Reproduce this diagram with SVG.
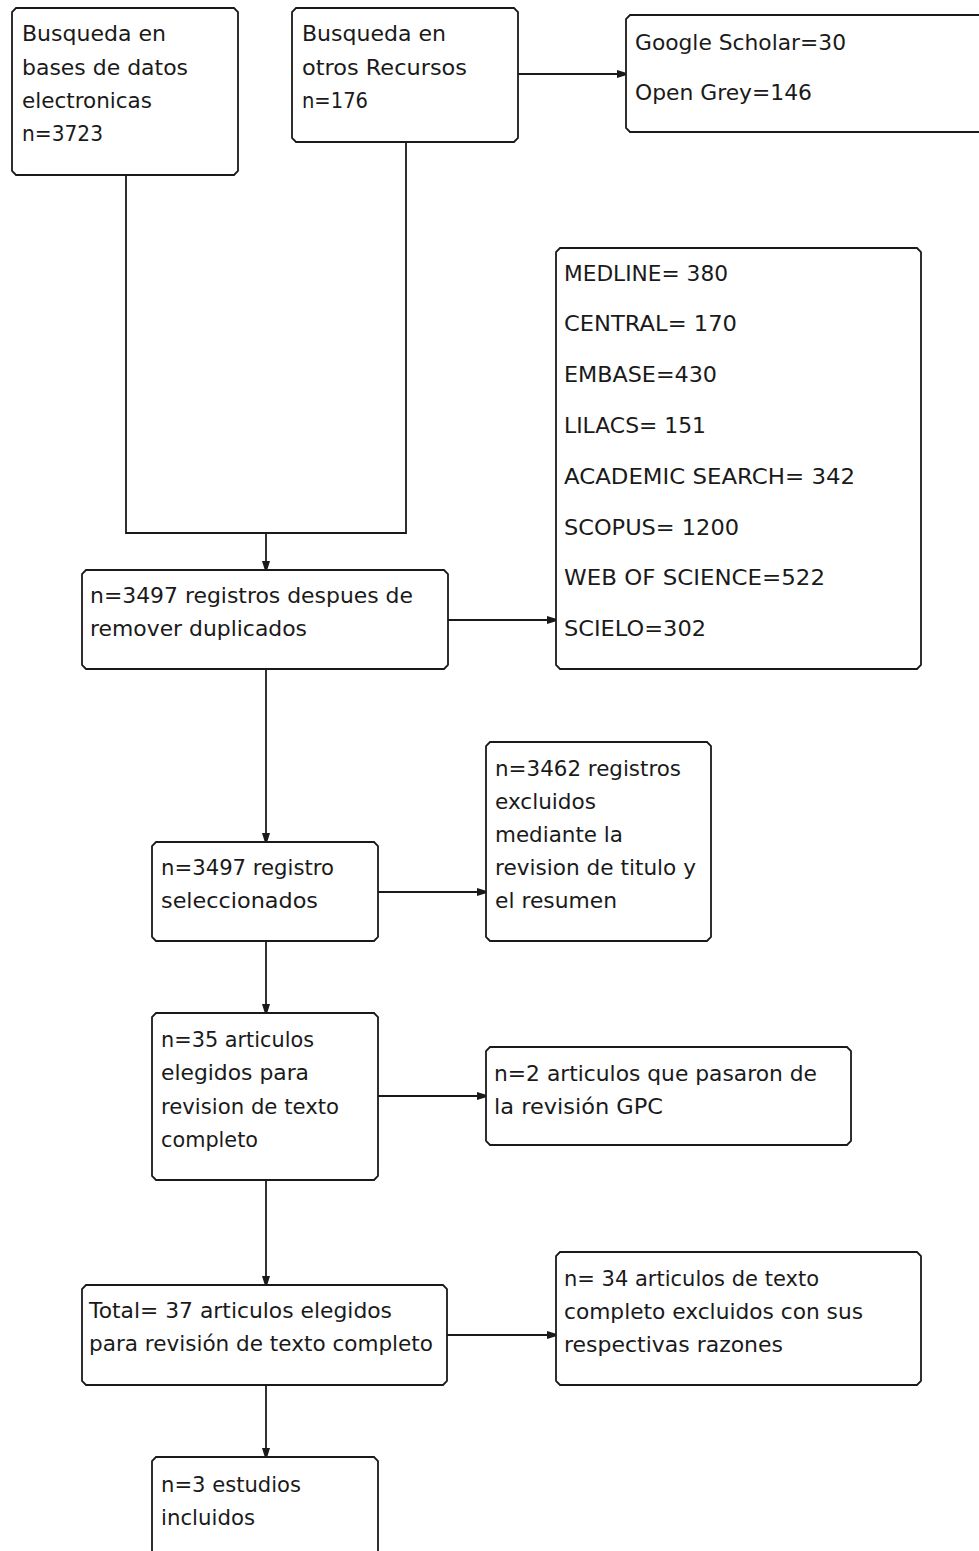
<svg xmlns="http://www.w3.org/2000/svg" width="979" height="1551" viewBox="0 0 979 1551">
<style>
.box{fill:#fff;stroke:#1a1a1a;stroke-width:1.8}
.t{font-family:"DejaVu Sans","Liberation Sans",sans-serif;font-size:21px;fill:#1a1a1a}
.c{fill:none;stroke:#1a1a1a;stroke-width:1.8}
</style>
<defs>
<marker id="ah" markerUnits="userSpaceOnUse" markerWidth="12" markerHeight="12" refX="10" refY="6" orient="auto">
<path d="M1,2 L10,4.8 L10,7.2 L1,10 Z" fill="#1a1a1a"/>
</marker>
</defs>
<rect width="979" height="1551" fill="#fff"/>
<g id="connectors">
<polyline class="c" points="126,175 126,533 406,533 406,142"/>
<line class="c" x1="266" y1="533" x2="266" y2="570" marker-end="url(#ah)"/>
<line class="c" x1="518" y1="74" x2="626" y2="74" marker-end="url(#ah)"/>
<line class="c" x1="448" y1="620" x2="556" y2="620" marker-end="url(#ah)"/>
<line class="c" x1="266" y1="669" x2="266" y2="842" marker-end="url(#ah)"/>
<line class="c" x1="378" y1="892" x2="486" y2="892" marker-end="url(#ah)"/>
<line class="c" x1="266" y1="941" x2="266" y2="1013" marker-end="url(#ah)"/>
<line class="c" x1="378" y1="1096" x2="486" y2="1096" marker-end="url(#ah)"/>
<line class="c" x1="266" y1="1180" x2="266" y2="1285" marker-end="url(#ah)"/>
<line class="c" x1="447" y1="1335" x2="556" y2="1335" marker-end="url(#ah)"/>
<line class="c" x1="266" y1="1385" x2="266" y2="1457" marker-end="url(#ah)"/>
</g>
<g id="n1">
<path class="box" d="M16,8 H234 L238,12 V171 L234,175 H16 L12,171 V12 Z"/>
<text class="t" x="22" y="41" textLength="144" lengthAdjust="spacingAndGlyphs">Busqueda en</text>
<text class="t" x="22" y="75" textLength="166" lengthAdjust="spacingAndGlyphs">bases de datos</text>
<text class="t" x="22" y="108" textLength="130" lengthAdjust="spacingAndGlyphs">electronicas</text>
<text class="t" x="22" y="141" textLength="81" lengthAdjust="spacingAndGlyphs">n=3723</text>
</g>
<g id="n2">
<path class="box" d="M296,8 H514 L518,12 V138 L514,142 H296 L292,138 V12 Z"/>
<text class="t" x="302" y="41" textLength="144" lengthAdjust="spacingAndGlyphs">Busqueda en</text>
<text class="t" x="302" y="75" textLength="165" lengthAdjust="spacingAndGlyphs">otros Recursos</text>
<text class="t" x="302" y="108" textLength="66" lengthAdjust="spacingAndGlyphs">n=176</text>
</g>
<g id="n3">
<path class="box" d="M630,15 H990 V132 H630 L626,128 V19 Z"/>
<text class="t" x="635" y="50" textLength="211" lengthAdjust="spacingAndGlyphs">Google Scholar=30</text>
<text class="t" x="635" y="100" textLength="177" lengthAdjust="spacingAndGlyphs">Open Grey=146</text>
</g>
<g id="n4">
<path class="box" d="M86,570 H444 L448,574 V665 L444,669 H86 L82,665 V574 Z"/>
<text class="t" x="90" y="603" textLength="323" lengthAdjust="spacingAndGlyphs">n=3497 registros despues de</text>
<text class="t" x="90" y="636" textLength="217" lengthAdjust="spacingAndGlyphs">remover duplicados</text>
</g>
<g id="n5">
<path class="box" d="M560,248 H917 L921,252 V665 L917,669 H560 L556,665 V252 Z"/>
<text class="t" x="564" y="281" textLength="164" lengthAdjust="spacingAndGlyphs">MEDLINE= 380</text>
<text class="t" x="564" y="331" textLength="173" lengthAdjust="spacingAndGlyphs">CENTRAL= 170</text>
<text class="t" x="564" y="382" textLength="153" lengthAdjust="spacingAndGlyphs">EMBASE=430</text>
<text class="t" x="564" y="433" textLength="142" lengthAdjust="spacingAndGlyphs">LILACS= 151</text>
<text class="t" x="564" y="484" textLength="291" lengthAdjust="spacingAndGlyphs">ACADEMIC SEARCH= 342</text>
<text class="t" x="564" y="535" textLength="175" lengthAdjust="spacingAndGlyphs">SCOPUS= 1200</text>
<text class="t" x="564" y="585" textLength="261" lengthAdjust="spacingAndGlyphs">WEB OF SCIENCE=522</text>
<text class="t" x="564" y="636" textLength="142" lengthAdjust="spacingAndGlyphs">SCIELO=302</text>
</g>
<g id="n6">
<path class="box" d="M156,842 H374 L378,846 V937 L374,941 H156 L152,937 V846 Z"/>
<text class="t" x="161" y="875" textLength="173" lengthAdjust="spacingAndGlyphs">n=3497 registro</text>
<text class="t" x="161" y="908" textLength="157" lengthAdjust="spacingAndGlyphs">seleccionados</text>
</g>
<g id="n7">
<path class="box" d="M490,742 H707 L711,746 V937 L707,941 H490 L486,937 V746 Z"/>
<text class="t" x="495" y="776" textLength="186" lengthAdjust="spacingAndGlyphs">n=3462 registros</text>
<text class="t" x="495" y="809" textLength="101" lengthAdjust="spacingAndGlyphs">excluidos</text>
<text class="t" x="495" y="842" textLength="128" lengthAdjust="spacingAndGlyphs">mediante la</text>
<text class="t" x="495" y="875" textLength="201" lengthAdjust="spacingAndGlyphs">revision de titulo y</text>
<text class="t" x="495" y="908" textLength="122" lengthAdjust="spacingAndGlyphs">el resumen</text>
</g>
<g id="n8">
<path class="box" d="M156,1013 H374 L378,1017 V1176 L374,1180 H156 L152,1176 V1017 Z"/>
<text class="t" x="161" y="1047" textLength="153" lengthAdjust="spacingAndGlyphs">n=35 articulos</text>
<text class="t" x="161" y="1080" textLength="148" lengthAdjust="spacingAndGlyphs">elegidos para</text>
<text class="t" x="161" y="1114" textLength="178" lengthAdjust="spacingAndGlyphs">revision de texto</text>
<text class="t" x="161" y="1147" textLength="97" lengthAdjust="spacingAndGlyphs">completo</text>
</g>
<g id="n9">
<path class="box" d="M490,1047 H847 L851,1051 V1141 L847,1145 H490 L486,1141 V1051 Z"/>
<text class="t" x="494" y="1081" textLength="323" lengthAdjust="spacingAndGlyphs">n=2 articulos que pasaron de</text>
<text class="t" x="494" y="1114" textLength="169" lengthAdjust="spacingAndGlyphs">la revisión GPC</text>
</g>
<g id="n10">
<path class="box" d="M86,1285 H443 L447,1289 V1381 L443,1385 H86 L82,1381 V1289 Z"/>
<text class="t" x="89" y="1318" textLength="303" lengthAdjust="spacingAndGlyphs">Total= 37 articulos elegidos</text>
<text class="t" x="89" y="1351" textLength="344" lengthAdjust="spacingAndGlyphs">para revisión de texto completo</text>
</g>
<g id="n11">
<path class="box" d="M560,1252 H917 L921,1256 V1381 L917,1385 H560 L556,1381 V1256 Z"/>
<text class="t" x="564" y="1286" textLength="255" lengthAdjust="spacingAndGlyphs">n= 34 articulos de texto</text>
<text class="t" x="564" y="1319" textLength="299" lengthAdjust="spacingAndGlyphs">completo excluidos con sus</text>
<text class="t" x="564" y="1352" textLength="219" lengthAdjust="spacingAndGlyphs">respectivas razones</text>
</g>
<g id="n12">
<path class="box" d="M156,1457 H374 L378,1461 V1560 H152 V1461 Z"/>
<text class="t" x="161" y="1492" textLength="140" lengthAdjust="spacingAndGlyphs">n=3 estudios</text>
<text class="t" x="161" y="1525" textLength="94" lengthAdjust="spacingAndGlyphs">incluidos</text>
</g>
</svg>
